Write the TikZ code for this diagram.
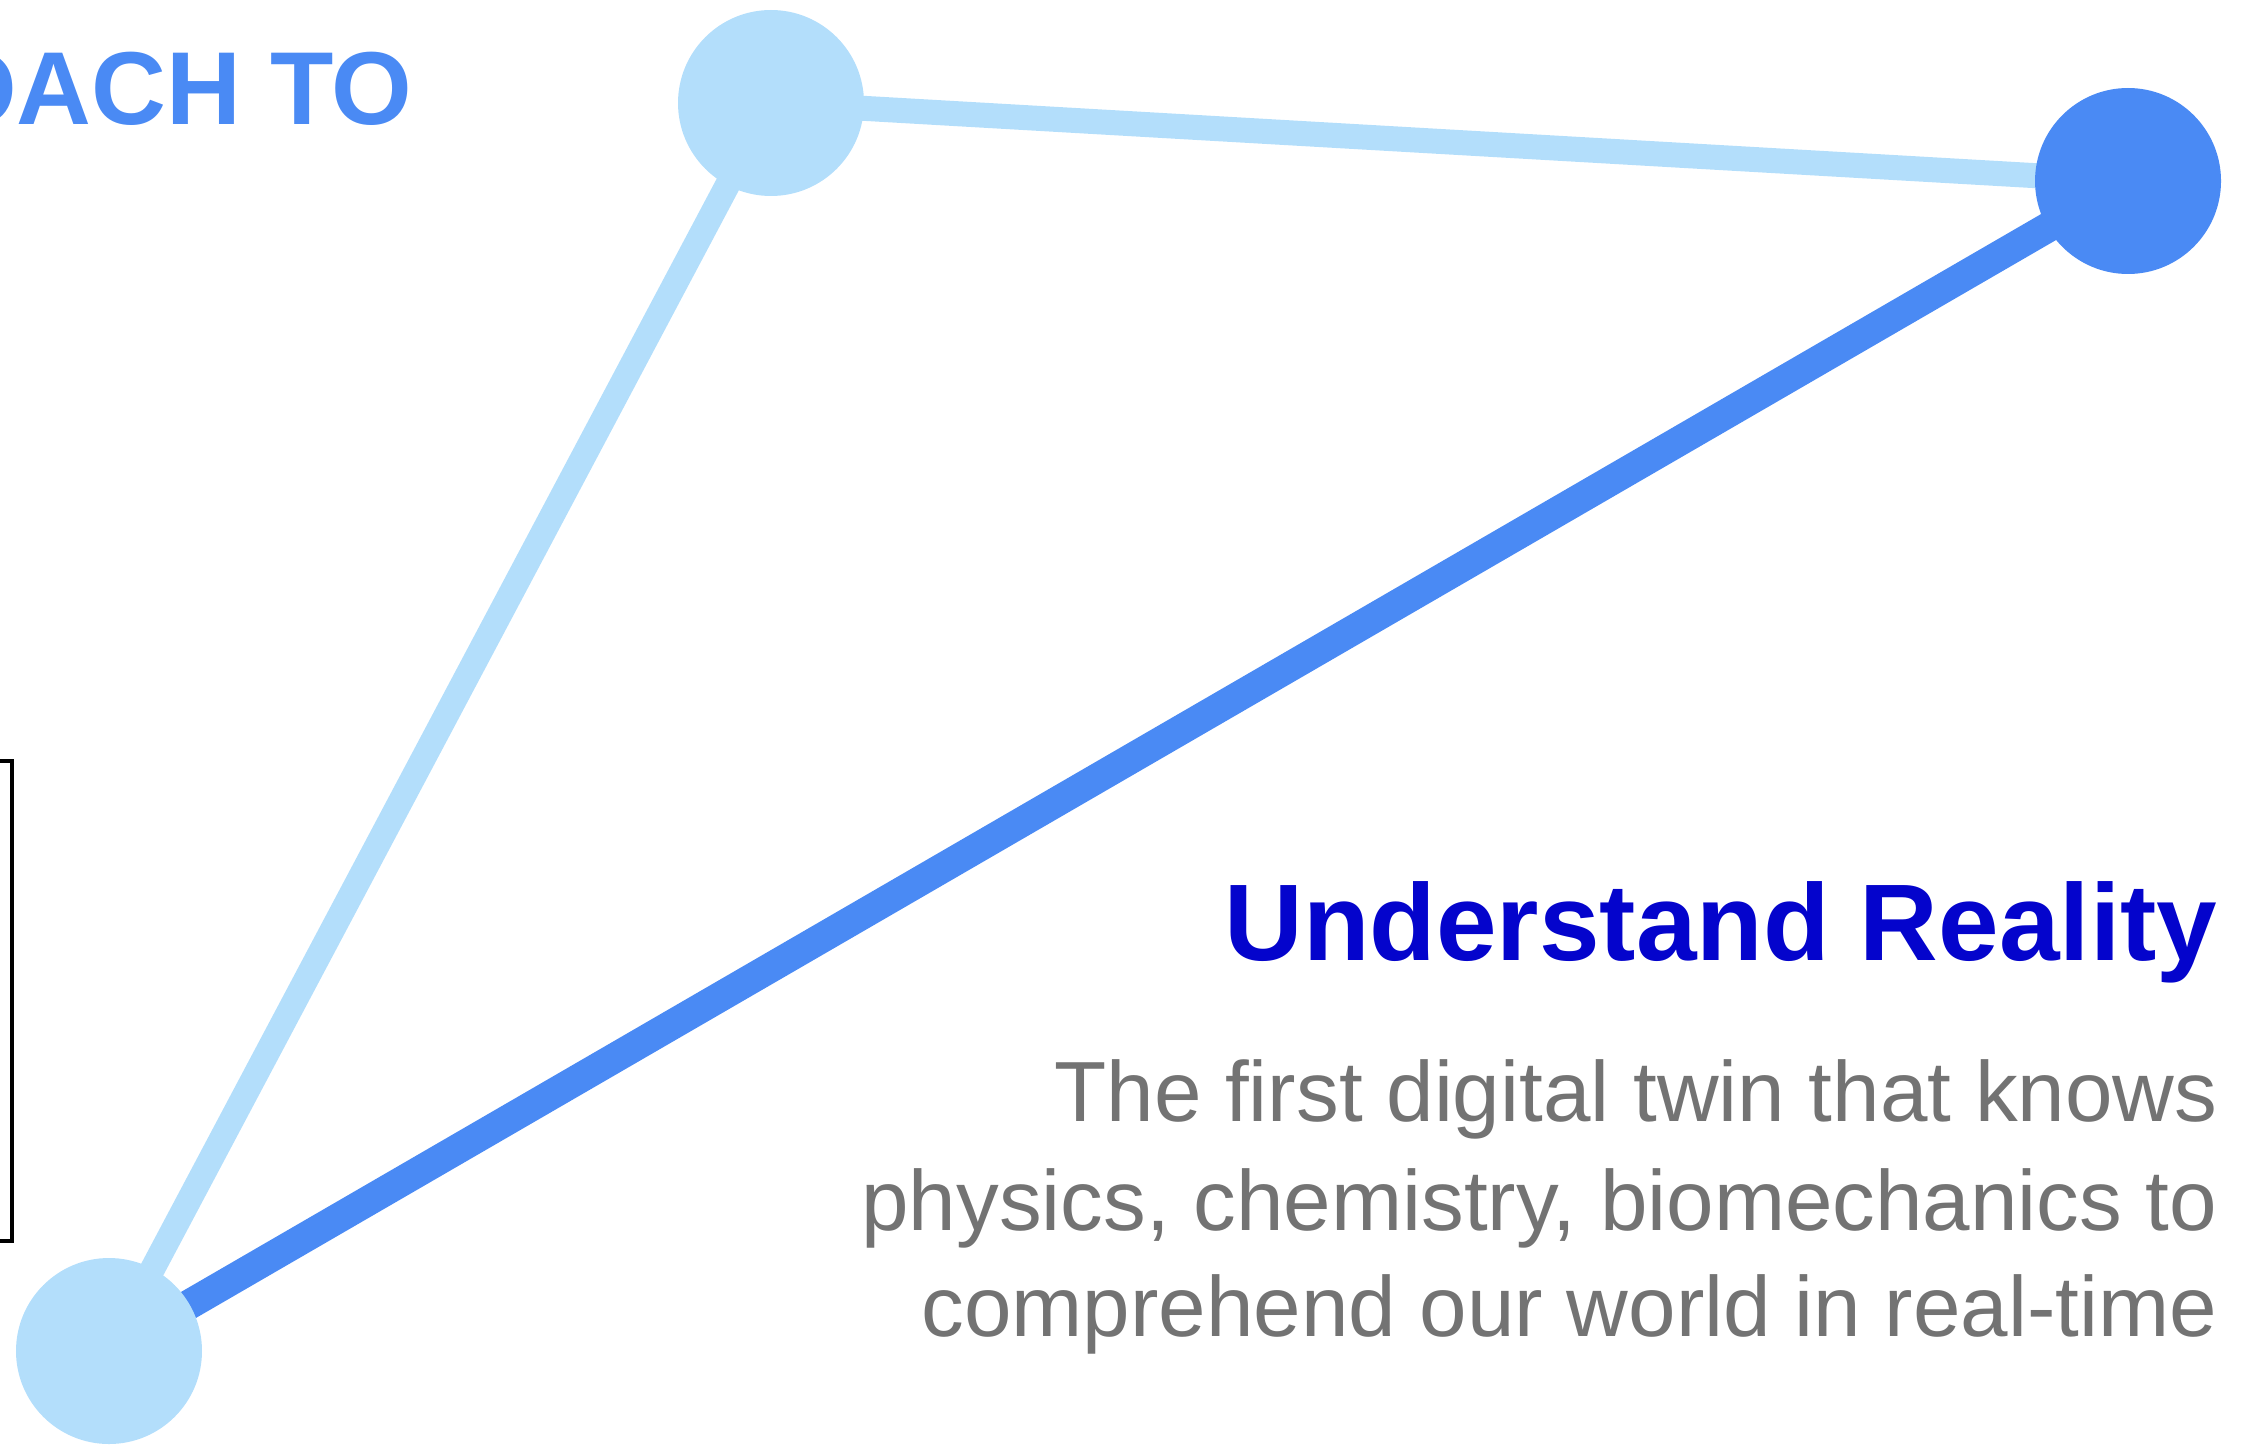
\documentclass[tikz,border=0pt]{standalone}
\usepackage{fontspec}
\setmainfont{Liberation Sans}
\usetikzlibrary{backgrounds}
\definecolor{edge1}{RGB}{179,222,251}
\definecolor{edge2}{RGB}{74,138,244}
\definecolor{heading}{RGB}{4,4,204}
\definecolor{body}{RGB}{115,115,115}
\tikzset{
  dot/.style={circle,inner sep=0pt,minimum size=1.86cm},
  desc/.style={anchor=base east,inner sep=0pt,text=body,font=\fontsize{24.3}{30}\selectfont},
}
\begin{document}
\begin{tikzpicture}
  \useasboundingbox (0,0) rectangle (22.47,14.48);
  \clip (0,0) rectangle (22.47,14.48);
  % titles
  \node[anchor=base east,inner sep=0pt,text=edge2,font=\fontsize{29.5}{34}\selectfont\bfseries] (title) at(4.13,13.23){OACH TO};
  % frame
  \coordinate (boxtop) at(0.12,6.87);
  \coordinate (boxbot) at(-1,2.07);
  \draw[line width=1.1pt] (boxbot) rectangle (boxtop);
  % nodes
  \node[dot,fill=edge1] (top) at(7.71,13.45){};
  \node[dot,fill=edge2] (right) at(21.28,12.67){};
  \node[dot,fill=edge1] (bottom) at(1.09,0.97){};
  % edges
  \begin{scope}[on background layer]
    \draw[edge1,line width=0.25cm] (top.center) -- (right.center);
    \draw[edge1,line width=0.25cm] (top.center) -- (bottom.center);
    \draw[edge2,line width=0.3cm] (bottom.center) -- (right.center);
  \end{scope}
  % text
  \node[anchor=base east,inner sep=0pt,text=heading,font=\fontsize{31}{36}\selectfont\bfseries] (head) at(22.18,4.88){Understand Reality};
  \node[desc] (desc1) at(22.18,3.27){The first digital twin that knows};
  \node[desc] (desc2) at(22.18,2.18){physics, chemistry, biomechanics to};
  \node[desc] (desc3) at(22.18,1.12){comprehend our world in real-time};
\end{tikzpicture}
\end{document}
